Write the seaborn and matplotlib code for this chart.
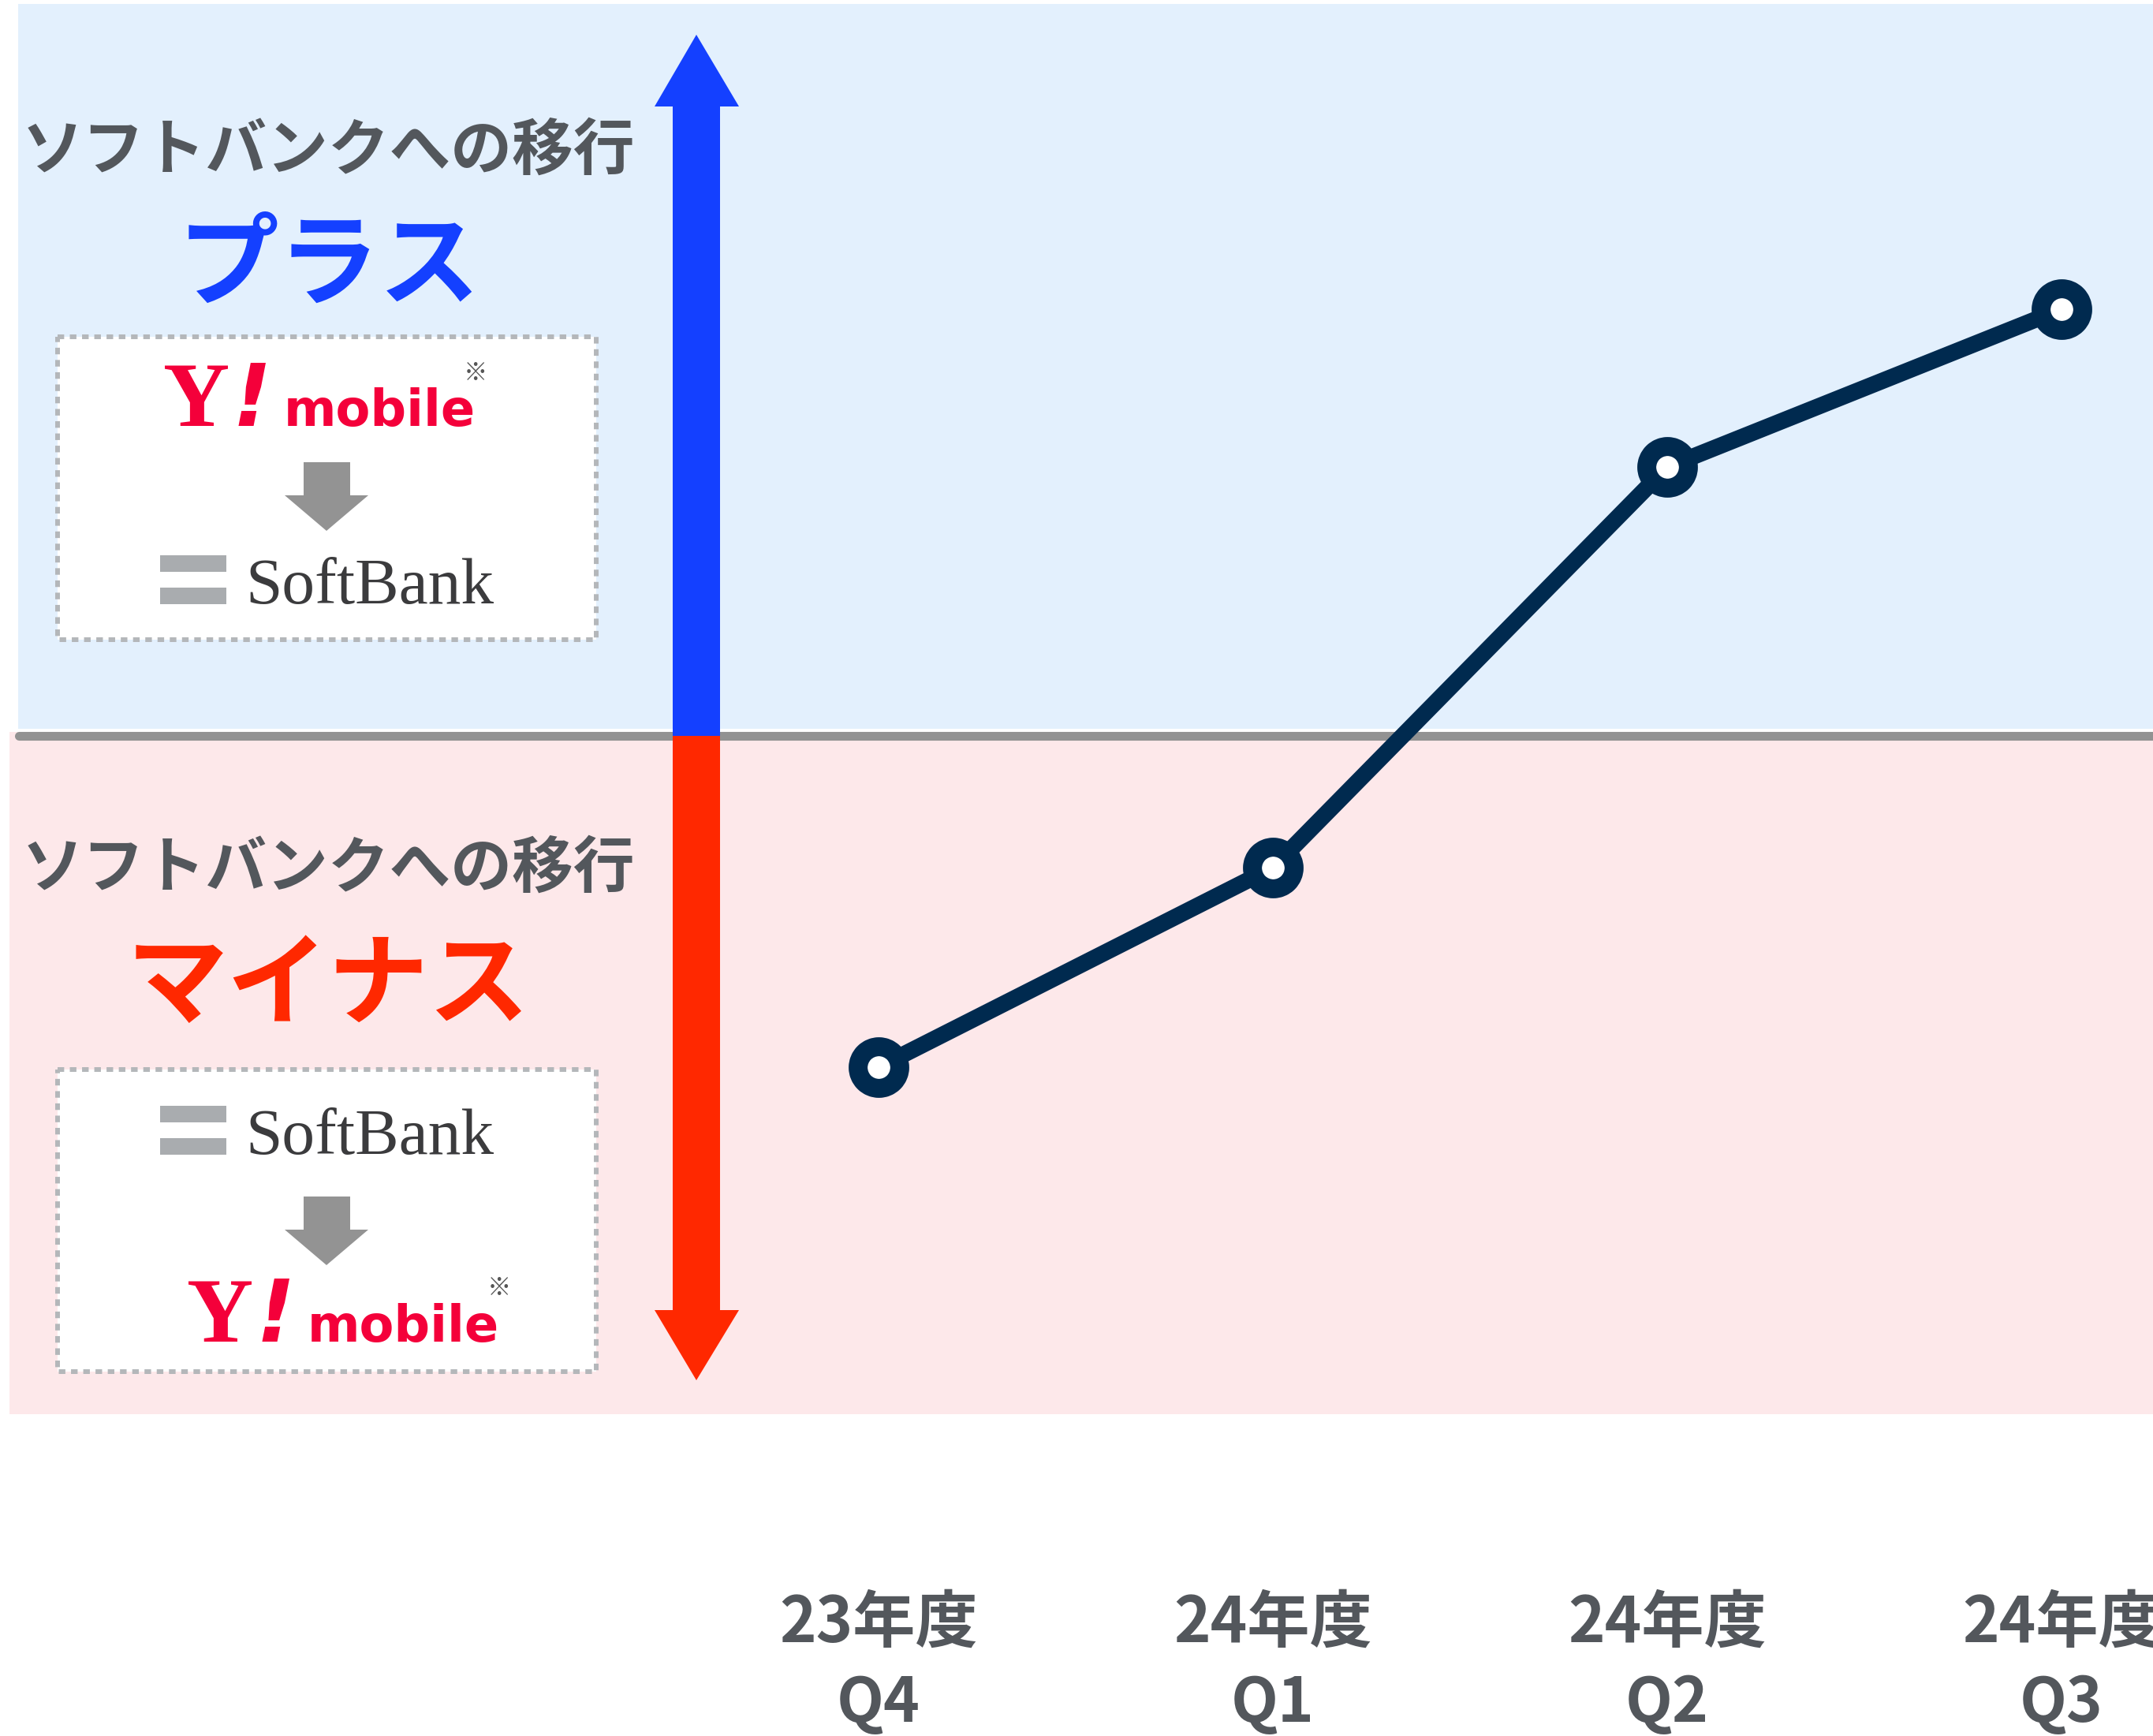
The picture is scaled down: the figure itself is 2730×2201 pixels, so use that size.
import matplotlib
matplotlib.use("Agg")
import matplotlib.pyplot as plt
from matplotlib.patches import Polygon, Rectangle
import numpy as np
import pandas as pd
import seaborn as sns

# データ (ゼロ線からの相対値)
years = ["23年度", "24年度", "24年度", "24年度"]
quarters = ["Q4", "Q1", "Q2", "Q3"]
values = [-4.20, -1.67, 3.41, 5.41]

heading = "ソフトバンクへの移行"
plus_label = "プラス"
minus_label = "マイナス"

# 画面サイズと配置
W, H, DPI = 2730, 2201, 100
ZERO_PX = 933
UNIT_PX = 100
X0_PX, STEP_PX = 1114, 500

NAVY = "#002a4f"
TEXT_GRAY = "#53575c"
BLUE_BG = "#e3f0fd"
PINK_BG = "#fde8ea"
ARROW_BLUE = "#1440ff"
ARROW_RED = "#ff2800"
LOGO_RED = "#f4003a"
BOX_EDGE = "#b4b7ba"
ARROW_GRAY = "#939393"
SB_GRAY = "#a9acaf"
SB_TEXT = "#3b3b3d"


def px_to_val(y_px):
    return (ZERO_PX - y_px) / UNIT_PX


sns.set_theme(style="white")
plt.rcParams["font.family"] = ["Noto Sans CJK JP", "DejaVu Sans"]

fig = plt.figure(figsize=(W / DPI, H / DPI), dpi=DPI)

# --- メインの軸 (背景・ゼロ線・折れ線) ---
ax = fig.add_axes([0, 0, 1, 1], zorder=1)
ax.axhspan(px_to_val(924), px_to_val(5), xmin=23 / W, xmax=1, color=BLUE_BG, lw=0, zorder=0)
ax.axhspan(px_to_val(1793), px_to_val(928), xmin=12 / W, xmax=1, color=PINK_BG, lw=0, zorder=0)
ax.axhline(0, xmin=24 / W, xmax=1, color="#929292", lw=8, zorder=1)

df = pd.DataFrame({"pos": np.arange(len(values)), "value": values})
sns.lineplot(data=df, x="pos", y="value", ax=ax, color=NAVY, lw=15,
             marker="o", markersize=38, markerfacecolor="white",
             markeredgecolor=NAVY, markeredgewidth=17.3, zorder=3)

for i, (yr, q) in enumerate(zip(years, quarters)):
    ax.text(i, px_to_val(2058), yr, ha="center", va="center", fontsize=57,
            fontweight="bold", color=TEXT_GRAY)
    ax.text(i, px_to_val(2160), q, ha="center", va="center", fontsize=56,
            fontweight="bold", color=TEXT_GRAY)

ax.set_xlim(-X0_PX / STEP_PX, (W - X0_PX) / STEP_PX)
ax.set_ylim(px_to_val(H), px_to_val(0))
ax.axis("off")

# --- 左側の説明 (ピクセル座標) ---
dx = fig.add_axes([0, 0, 1, 1], zorder=2)
dx.set_xlim(0, W)
dx.set_ylim(H, 0)
dx.axis("off")

# 縦の矢印
dx.add_patch(Polygon([(853, ZERO_PX), (853, 135), (830, 135), (883, 44),
                      (937, 135), (913, 135), (913, ZERO_PX)],
                     closed=True, fc=ARROW_BLUE, ec="none", zorder=3))
dx.add_patch(Polygon([(853, ZERO_PX), (853, 1661), (830, 1661), (883, 1750),
                      (937, 1661), (913, 1661), (913, ZERO_PX)],
                     closed=True, fc=ARROW_RED, ec="none", zorder=3))

# 見出し
dx.text(416, 192, heading, ha="center", va="center", fontsize=56,
        fontweight="bold", color=TEXT_GRAY)
dx.text(417, 340, plus_label, ha="center", va="center", fontsize=92,
        fontweight="bold", color=ARROW_BLUE)
dx.text(416, 1102, heading, ha="center", va="center", fontsize=56,
        fontweight="bold", color=TEXT_GRAY)
dx.text(416, 1252, minus_label, ha="center", va="center", fontsize=92,
        fontweight="bold", color=ARROW_RED)


def draw_box(y0, y1):
    dx.add_patch(Rectangle((73, y0), 683, y1 - y0, fc="white", ec=BOX_EDGE,
                           lw=4.3, ls=(0, (1.4, 1.2)), zorder=2))


def draw_ymobile(x0, base):
    dx.text(x0, base, "Y", ha="left", va="baseline", fontsize=84,
            family="Liberation Serif", fontweight="bold", color=LOGO_RED, zorder=4)
    dx.text(x0 + 88, base, "!", ha="left", va="baseline", fontsize=78,
            family="DejaVu Sans", fontweight="bold", style="oblique",
            color=LOGO_RED, zorder=4)
    dx.text(x0 + 153, base, "mobile", ha="left", va="baseline", fontsize=46,
            family="DejaVu Sans", fontweight="bold", color=LOGO_RED, zorder=4)
    dx.text(x0 + 396, base - 68, "※", ha="center", va="center", fontsize=22,
            color="#555555", zorder=4)


def draw_softbank(base):
    dx.add_patch(Rectangle((203, base - 61), 84, 21, fc=SB_GRAY, ec="none", zorder=4))
    dx.add_patch(Rectangle((203, base - 20), 84, 21, fc=SB_GRAY, ec="none", zorder=4))
    dx.text(311, base, "SoftBank", ha="left", va="baseline", fontsize=60,
            family="Liberation Serif", color=SB_TEXT, zorder=4)


def draw_down_arrow(top):
    dx.add_patch(Polygon([(385, top), (444, top), (444, top + 42), (467, top + 42),
                          (414, top + 87), (361, top + 42), (385, top + 42)],
                         closed=True, fc=ARROW_GRAY, ec="none", zorder=4))


# 上のボックス: ワイモバイル → ソフトバンク
draw_box(427, 811)
draw_ymobile(207, 540)
draw_down_arrow(586)
draw_softbank(765)

# 下のボックス: ソフトバンク → ワイモバイル
draw_box(1356, 1739)
draw_softbank(1463)
draw_down_arrow(1517)
draw_ymobile(237, 1701)

fig.savefig("out.png", dpi=DPI, facecolor="white")
